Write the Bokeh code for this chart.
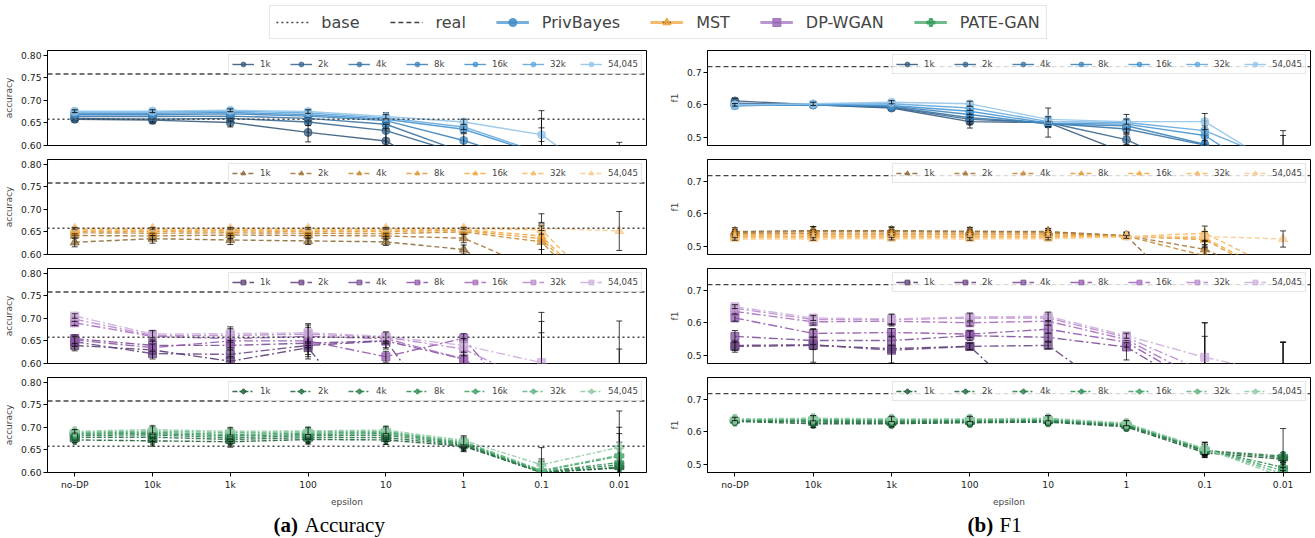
import math
import numpy as np
from bokeh.plotting import figure
from bokeh.layouts import column, row
from bokeh.models import (ColumnDataSource, Legend, LegendItem, FixedTicker, Span,
                          Label, Range1d, NumeralTickFormatter)
from bokeh.embed import file_html
from bokeh.resources import INLINE

EPSILONS = ["no-DP", "10k", "1k", "100", "10", "1", "0.1", "0.01"]
SIZES = ["1k", "2k", "4k", "8k", "16k", "32k", "54,045"]
METHODS = ["PrivBayes", "MST", "DP-WGAN", "PATE-GAN"]

ACC_REAL = 0.758
ACC_BASE = 0.658
F1_REAL = 0.718

# ---------- accuracy (rows: sizes, cols: epsilons) ----------
ACC_PRIVBAYES = [
    [0.658, 0.656, 0.651, 0.629, 0.610, 0.510, 0.480, 0.470],
    [0.660, 0.658, 0.660, 0.652, 0.633, 0.580, 0.520, 0.490],
    [0.664, 0.664, 0.665, 0.660, 0.647, 0.585, 0.530, 0.500],
    [0.668, 0.668, 0.670, 0.665, 0.655, 0.611, 0.555, 0.510],
    [0.671, 0.671, 0.673, 0.668, 0.658, 0.636, 0.580, 0.520],
    [0.674, 0.674, 0.676, 0.672, 0.661, 0.641, 0.583, 0.530],
    [0.676, 0.676, 0.678, 0.675, 0.664, 0.652, 0.624, 0.500],
]
ACC_PRIVBAYES_ERR = [
    [0.006, 0.008, 0.010, 0.021, 0.030, 0.020, 0.030, 0.030],
    [0.005, 0.006, 0.006, 0.008, 0.040, 0.020, 0.030, 0.030],
    [0.004, 0.005, 0.005, 0.006, 0.010, 0.015, 0.030, 0.030],
    [0.004, 0.004, 0.004, 0.005, 0.008, 0.015, 0.020, 0.030],
    [0.003, 0.004, 0.004, 0.005, 0.006, 0.008, 0.080, 0.030],
    [0.003, 0.003, 0.003, 0.004, 0.005, 0.006, 0.094, 0.030],
    [0.003, 0.003, 0.003, 0.004, 0.005, 0.006, 0.015, 0.107],
]
ACC_MST = [
    [0.627, 0.635, 0.632, 0.630, 0.628, 0.611, 0.500, 0.450],
    [0.642, 0.641, 0.643, 0.642, 0.641, 0.636, 0.562, 0.480],
    [0.648, 0.647, 0.648, 0.647, 0.646, 0.650, 0.628, 0.450],
    [0.651, 0.651, 0.652, 0.651, 0.651, 0.653, 0.635, 0.460],
    [0.654, 0.654, 0.654, 0.654, 0.654, 0.655, 0.641, 0.470],
    [0.656, 0.656, 0.656, 0.656, 0.656, 0.657, 0.655, 0.480],
    [0.658, 0.658, 0.658, 0.658, 0.658, 0.658, 0.658, 0.652],
]
ACC_MST_ERR = [
    [0.010, 0.010, 0.010, 0.008, 0.008, 0.010, 0.030, 0.030],
    [0.006, 0.008, 0.008, 0.006, 0.007, 0.010, 0.030, 0.030],
    [0.005, 0.005, 0.006, 0.005, 0.006, 0.006, 0.040, 0.030],
    [0.004, 0.004, 0.005, 0.004, 0.005, 0.005, 0.055, 0.030],
    [0.003, 0.004, 0.004, 0.004, 0.004, 0.004, 0.030, 0.030],
    [0.003, 0.003, 0.003, 0.003, 0.003, 0.003, 0.010, 0.030],
    [0.002, 0.002, 0.002, 0.002, 0.002, 0.002, 0.005, 0.043],
]
ACC_DPWGAN = [
    [0.640, 0.630, 0.605, 0.635, 0.420, 0.400, 0.400, 0.400],
    [0.648, 0.622, 0.620, 0.640, 0.650, 0.420, 0.400, 0.400],
    [0.655, 0.640, 0.640, 0.645, 0.650, 0.610, 0.450, 0.400],
    [0.652, 0.635, 0.650, 0.650, 0.615, 0.656, 0.450, 0.400],
    [0.690, 0.660, 0.655, 0.660, 0.655, 0.610, 0.500, 0.400],
    [0.698, 0.662, 0.662, 0.665, 0.658, 0.632, 0.550, 0.500],
    [0.705, 0.665, 0.666, 0.668, 0.660, 0.640, 0.602, 0.550],
]
ACC_DPWGAN_ERR = [
    [0.012, 0.010, 0.015, 0.020, 0.020, 0.030, 0.050, 0.050],
    [0.010, 0.012, 0.020, 0.030, 0.018, 0.030, 0.050, 0.050],
    [0.008, 0.010, 0.025, 0.025, 0.015, 0.025, 0.050, 0.050],
    [0.008, 0.008, 0.020, 0.015, 0.012, 0.010, 0.050, 0.050],
    [0.006, 0.010, 0.020, 0.020, 0.010, 0.015, 0.168, 0.050],
    [0.005, 0.008, 0.015, 0.020, 0.010, 0.015, 0.143, 0.132],
    [0.005, 0.008, 0.015, 0.020, 0.010, 0.015, 0.111, 0.144],
]
ACC_PATEGAN = [
    [0.672, 0.670, 0.668, 0.673, 0.672, 0.658, 0.600, 0.610],
    [0.678, 0.678, 0.673, 0.677, 0.677, 0.660, 0.600, 0.612],
    [0.682, 0.683, 0.677, 0.681, 0.682, 0.662, 0.601, 0.617],
    [0.685, 0.686, 0.681, 0.684, 0.686, 0.664, 0.602, 0.622],
    [0.687, 0.689, 0.684, 0.687, 0.689, 0.666, 0.603, 0.636],
    [0.689, 0.692, 0.688, 0.690, 0.691, 0.668, 0.605, 0.638],
    [0.691, 0.695, 0.691, 0.692, 0.694, 0.671, 0.617, 0.656],
]
ACC_PATEGAN_ERR = [
    [0.006, 0.012, 0.012, 0.010, 0.010, 0.012, 0.030, 0.020],
    [0.006, 0.010, 0.010, 0.010, 0.008, 0.012, 0.025, 0.025],
    [0.005, 0.008, 0.008, 0.008, 0.008, 0.010, 0.020, 0.050],
    [0.005, 0.008, 0.008, 0.008, 0.008, 0.010, 0.015, 0.030],
    [0.005, 0.008, 0.008, 0.008, 0.008, 0.010, 0.015, 0.050],
    [0.005, 0.008, 0.008, 0.008, 0.008, 0.010, 0.020, 0.062],
    [0.004, 0.008, 0.008, 0.008, 0.008, 0.010, 0.038, 0.080],
]

# ---------- F1 ----------
F1_PRIVBAYES = [
    [0.612, 0.600, 0.590, 0.548, 0.545, 0.450, 0.350, 0.350],
    [0.605, 0.600, 0.592, 0.555, 0.545, 0.492, 0.380, 0.350],
    [0.600, 0.600, 0.594, 0.560, 0.543, 0.525, 0.475, 0.350],
    [0.598, 0.600, 0.596, 0.570, 0.540, 0.535, 0.478, 0.350],
    [0.597, 0.600, 0.598, 0.580, 0.543, 0.540, 0.505, 0.350],
    [0.598, 0.602, 0.603, 0.590, 0.548, 0.545, 0.520, 0.420],
    [0.600, 0.603, 0.608, 0.603, 0.555, 0.548, 0.548, 0.400],
]
F1_PRIVBAYES_ERR = [
    [0.008, 0.008, 0.008, 0.020, 0.045, 0.020, 0.030, 0.030],
    [0.006, 0.007, 0.007, 0.015, 0.015, 0.015, 0.030, 0.030],
    [0.005, 0.006, 0.006, 0.012, 0.012, 0.012, 0.030, 0.030],
    [0.005, 0.005, 0.006, 0.010, 0.010, 0.010, 0.030, 0.030],
    [0.005, 0.005, 0.005, 0.010, 0.010, 0.030, 0.030, 0.030],
    [0.004, 0.005, 0.005, 0.008, 0.008, 0.008, 0.030, 0.085],
    [0.004, 0.005, 0.005, 0.008, 0.008, 0.008, 0.025, 0.120],
]
F1_MST = [
    [0.545, 0.548, 0.548, 0.546, 0.545, 0.532, 0.290, 0.290],
    [0.542, 0.545, 0.545, 0.544, 0.543, 0.532, 0.490, 0.380],
    [0.538, 0.540, 0.540, 0.540, 0.540, 0.531, 0.470, 0.380],
    [0.534, 0.535, 0.535, 0.535, 0.535, 0.530, 0.520, 0.390],
    [0.530, 0.530, 0.530, 0.530, 0.530, 0.530, 0.525, 0.400],
    [0.526, 0.526, 0.527, 0.526, 0.527, 0.529, 0.540, 0.420],
    [0.522, 0.522, 0.523, 0.522, 0.523, 0.528, 0.530, 0.522],
]
F1_MST_ERR = [
    [0.012, 0.012, 0.012, 0.012, 0.010, 0.012, 0.030, 0.030],
    [0.010, 0.015, 0.012, 0.012, 0.010, 0.010, 0.025, 0.030],
    [0.008, 0.010, 0.010, 0.010, 0.008, 0.008, 0.025, 0.030],
    [0.006, 0.008, 0.008, 0.008, 0.006, 0.006, 0.020, 0.030],
    [0.005, 0.006, 0.006, 0.006, 0.005, 0.005, 0.020, 0.030],
    [0.005, 0.005, 0.005, 0.005, 0.005, 0.005, 0.022, 0.030],
    [0.004, 0.004, 0.004, 0.004, 0.004, 0.004, 0.015, 0.025],
]
F1_DPWGAN = [
    [0.527, 0.530, 0.520, 0.527, 0.300, 0.300, 0.300, 0.300],
    [0.530, 0.532, 0.515, 0.527, 0.530, 0.355, 0.300, 0.300],
    [0.558, 0.545, 0.545, 0.560, 0.555, 0.525, 0.380, 0.300],
    [0.615, 0.567, 0.570, 0.565, 0.580, 0.540, 0.400, 0.300],
    [0.635, 0.603, 0.605, 0.600, 0.605, 0.548, 0.420, 0.400],
    [0.645, 0.610, 0.610, 0.615, 0.615, 0.555, 0.450, 0.420],
    [0.650, 0.615, 0.612, 0.618, 0.620, 0.560, 0.493, 0.440],
]
F1_DPWGAN_ERR = [
    [0.018, 0.052, 0.045, 0.010, 0.030, 0.030, 0.030, 0.030],
    [0.015, 0.015, 0.040, 0.010, 0.010, 0.030, 0.030, 0.030],
    [0.018, 0.012, 0.015, 0.015, 0.012, 0.040, 0.030, 0.030],
    [0.010, 0.012, 0.012, 0.010, 0.012, 0.015, 0.030, 0.030],
    [0.008, 0.010, 0.015, 0.010, 0.012, 0.010, 0.138, 0.140],
    [0.006, 0.010, 0.015, 0.012, 0.012, 0.010, 0.150, 0.120],
    [0.006, 0.008, 0.015, 0.012, 0.013, 0.008, 0.107, 0.100],
]
F1_PATEGAN = [
    [0.632, 0.625, 0.625, 0.628, 0.630, 0.615, 0.535, 0.515],
    [0.634, 0.630, 0.628, 0.630, 0.632, 0.618, 0.540, 0.520],
    [0.635, 0.633, 0.632, 0.632, 0.634, 0.620, 0.542, 0.525],
    [0.636, 0.636, 0.634, 0.635, 0.636, 0.622, 0.545, 0.490],
    [0.637, 0.638, 0.636, 0.637, 0.638, 0.624, 0.545, 0.480],
    [0.638, 0.640, 0.638, 0.638, 0.640, 0.625, 0.547, 0.470],
    [0.640, 0.642, 0.640, 0.640, 0.642, 0.627, 0.548, 0.460],
]
F1_PATEGAN_ERR = [
    [0.008, 0.012, 0.010, 0.010, 0.010, 0.010, 0.015, 0.010],
    [0.008, 0.012, 0.012, 0.010, 0.010, 0.010, 0.015, 0.015],
    [0.007, 0.010, 0.010, 0.010, 0.010, 0.010, 0.020, 0.085],
    [0.006, 0.010, 0.010, 0.008, 0.010, 0.008, 0.015, 0.020],
    [0.006, 0.010, 0.010, 0.008, 0.010, 0.008, 0.015, 0.020],
    [0.005, 0.010, 0.008, 0.008, 0.010, 0.008, 0.020, 0.020],
    [0.005, 0.008, 0.008, 0.008, 0.008, 0.008, 0.020, 0.020],
]

# ---------- styles ----------
SHADES = {
    "PrivBayes": ["#385c7d", "#3a6890", "#3c76a6", "#3e85bd", "#4795d2", "#64a9de", "#93c5ea"],
    "MST": ["#8c6c38", "#a87838", "#c98a35", "#e69a35", "#f5a93e", "#f6b862", "#f7cc90"],
    "DP-WGAN": ["#5b3e72", "#6b4685", "#7d4f98", "#9059ab", "#a56dbe", "#b98bcd", "#ceafde"],
    "PATE-GAN": ["#1f5f38", "#247042", "#2b804c", "#319056", "#41a367", "#63b684", "#92cca6"],
}
MAIN_COLORS = {"PrivBayes": "#4a93cf", "MST": "#f0a33f", "DP-WGAN": "#a273bf", "PATE-GAN": "#3fa465"}
MARKERS = {"PrivBayes": "circle", "MST": "triangle", "DP-WGAN": "square", "PATE-GAN": "plus"}
MSIZE = {"PrivBayes": 8, "MST": 9, "DP-WGAN": 8, "PATE-GAN": 9}
DASHES = {"PrivBayes": "solid", "MST": "5 3", "DP-WGAN": "9 3 2 3", "PATE-GAN": "5 2 2 2"}
REAL_DASH = "5 3"
BASE_DASH = "2 3"

FONT = "DejaVu Sans"
TICK_FS = "9.2px"
X = list(range(len(EPSILONS)))


def make_panel(method, means, errs, ylabel, yr, yticks, yfmt, real, base, bottom, left_col):
    width = 658 if left_col else 657
    bl, br = (47, 12) if left_col else (49, 5)
    height = 138 if bottom else 109
    p = figure(width=width, height=height, x_range=Range1d(-0.35, 7.35), y_range=Range1d(*yr),
               output_backend="svg", toolbar_location=None,
               x_axis_location="below" if bottom else None,
               min_border_left=bl, min_border_right=br, min_border_top=6,
               min_border_bottom=37 if bottom else 8)
    p.outline_line_color = "black"
    p.outline_line_width = 1
    p.xgrid.visible = False
    p.ygrid.visible = False
    p.background_fill_color = "white"
    p.border_fill_color = "white"

    p.yaxis.ticker = FixedTicker(ticks=yticks)
    p.yaxis.formatter = NumeralTickFormatter(format=yfmt)
    p.yaxis.axis_label = ylabel
    axes = list(p.yaxis) + (list(p.xaxis) if bottom else [])
    for ax in axes:
        ax.minor_tick_line_color = None
        ax.major_tick_out = 4
        ax.major_tick_in = 0
        ax.major_label_standoff = 2
        ax.axis_label_standoff = 4
        ax.major_label_text_font = FONT
        ax.major_label_text_font_size = TICK_FS
        ax.axis_label_text_font = FONT
        ax.axis_label_text_font_size = "9px"
        ax.axis_label_text_font_style = "normal"
        ax.axis_line_color = "black"
        ax.major_label_text_color = "#222222"
    if bottom:
        p.xaxis.ticker = FixedTicker(ticks=X)
        p.xaxis.major_label_overrides = {i: e for i, e in enumerate(EPSILONS)}
        p.xaxis.axis_label = "epsilon"

    if base is not None:
        p.add_layout(Span(location=base, dimension="width", line_color="#444444",
                          line_dash=BASE_DASH, line_width=1.3))
    p.add_layout(Span(location=real, dimension="width", line_color="#444444",
                      line_dash=REAL_DASH, line_width=1.3))

    items = []
    for i, s in enumerate(SIZES):
        m = means[i]
        e = errs[i]
        c = SHADES[method][i]
        src = ColumnDataSource(dict(x=X, y=m,
                                    lo=[a - b for a, b in zip(m, e)],
                                    hi=[a + b for a, b in zip(m, e)]))
        lr = p.line("x", "y", source=src, line_color=c, line_width=1.4,
                    line_dash=DASHES[method], line_alpha=0.9)
        sr = p.scatter("x", "y", source=src, marker=MARKERS[method], size=MSIZE[method],
                       fill_color=c, line_color=c, fill_alpha=0.75, line_alpha=0.8)
        p.segment("x", "lo", "x", "hi", source=src, line_color="black", line_width=1, line_alpha=0.75)
        p.scatter("x", "lo", source=src, marker="dash", size=6, line_color="black", line_alpha=0.75)
        p.scatter("x", "hi", source=src, marker="dash", size=6, line_color="black", line_alpha=0.75)
        items.append(LegendItem(label=s, renderers=[lr, sr]))

    leg = Legend(items=items, orientation="horizontal", location="top_right",
                 label_text_font=FONT, label_text_font_size="8.6px", label_height=12,
                 glyph_width=22, glyph_height=12, label_standoff=6, spacing=10,
                 padding=3, margin=4, border_line_color="#cccccc", border_line_width=1,
                 background_fill_alpha=0.8)
    p.add_layout(leg)
    return p


ACC_DATA = [("PrivBayes", ACC_PRIVBAYES, ACC_PRIVBAYES_ERR), ("MST", ACC_MST, ACC_MST_ERR),
            ("DP-WGAN", ACC_DPWGAN, ACC_DPWGAN_ERR), ("PATE-GAN", ACC_PATEGAN, ACC_PATEGAN_ERR)]
F1_DATA = [("PrivBayes", F1_PRIVBAYES, F1_PRIVBAYES_ERR), ("MST", F1_MST, F1_MST_ERR),
           ("DP-WGAN", F1_DPWGAN, F1_DPWGAN_ERR), ("PATE-GAN", F1_PATEGAN, F1_PATEGAN_ERR)]

left = []
right = []
for k in range(4):
    mth, m, e = ACC_DATA[k]
    left.append(make_panel(mth, m, e, "accuracy", (0.6, 0.81), [0.6, 0.65, 0.7, 0.75, 0.8],
                           "0.00", ACC_REAL, ACC_BASE, k == 3, True))
    mth, m, e = F1_DATA[k]
    right.append(make_panel(mth, m, e, "f1", (0.474, 0.768), [0.5, 0.6, 0.7],
                            "0.0", F1_REAL, None, k == 3, False))

# ---------- top legend (legend-only figure; renderers hold no visible data) ----------
top = figure(width=1315, height=44, x_range=Range1d(0, 1), y_range=Range1d(0, 1),
             output_backend="svg", toolbar_location=None, x_axis_location=None,
             y_axis_location=None, min_border=0)
top.outline_line_color = None
top.xgrid.visible = False
top.ygrid.visible = False


def nan_source():
    return ColumnDataSource(dict(x=np.array([np.nan]), y=np.array([np.nan])))


titems = []
r = top.line("x", "y", source=nan_source(), line_color="#444444", line_dash=BASE_DASH, line_width=1.6)
titems.append(LegendItem(label="base", renderers=[r]))
r = top.line("x", "y", source=nan_source(), line_color="#444444", line_dash=REAL_DASH, line_width=1.6)
titems.append(LegendItem(label="real", renderers=[r]))
for mth in METHODS:
    src = nan_source()
    r1 = top.line("x", "y", source=src, line_color=MAIN_COLORS[mth], line_width=3, line_alpha=0.75)
    r0 = top.scatter("x", "y", source=src, marker="dash", angle=math.pi / 2, size=10,
                     line_color="#333333", line_width=1.5)
    r2 = top.scatter("x", "y", source=src, marker=MARKERS[mth], size=10, fill_color=MAIN_COLORS[mth],
                     line_color=MAIN_COLORS[mth], fill_alpha=0.9)
    titems.append(LegendItem(label=mth, renderers=[r1, r0, r2]))
tleg = Legend(items=titems, orientation="horizontal", location="center",
              label_text_font=FONT, label_text_font_size="16px", label_height=20,
              glyph_width=33, glyph_height=20, label_standoff=13, spacing=30,
              padding=6, margin=0, border_line_color="#cccccc", border_line_width=1,
              background_fill_alpha=1.0)
top.add_layout(tleg)

# ---------- captions ----------
cap = figure(width=1315, height=29, x_range=Range1d(0, 1315), y_range=Range1d(0, 29),
             output_backend="svg", toolbar_location=None, x_axis_location=None,
             y_axis_location=None, min_border=0)
cap.outline_line_color = None
cap.xgrid.visible = False
cap.ygrid.visible = False
for txt, xx, bold in [("(a)", 273, True), ("Accuracy", 304, False), ("(b)", 967, True), ("F1", 999, False)]:
    cap.add_layout(Label(x=xx, y=14, text=txt, text_font="Liberation Serif",
                         text_font_size="21px", text_font_style="bold" if bold else "normal",
                         text_baseline="middle", text_align="left", text_color="black"))

layout = column(top, row(column(*left), column(*right)), cap)
open("out.html", "w").write(file_html(layout, INLINE))
